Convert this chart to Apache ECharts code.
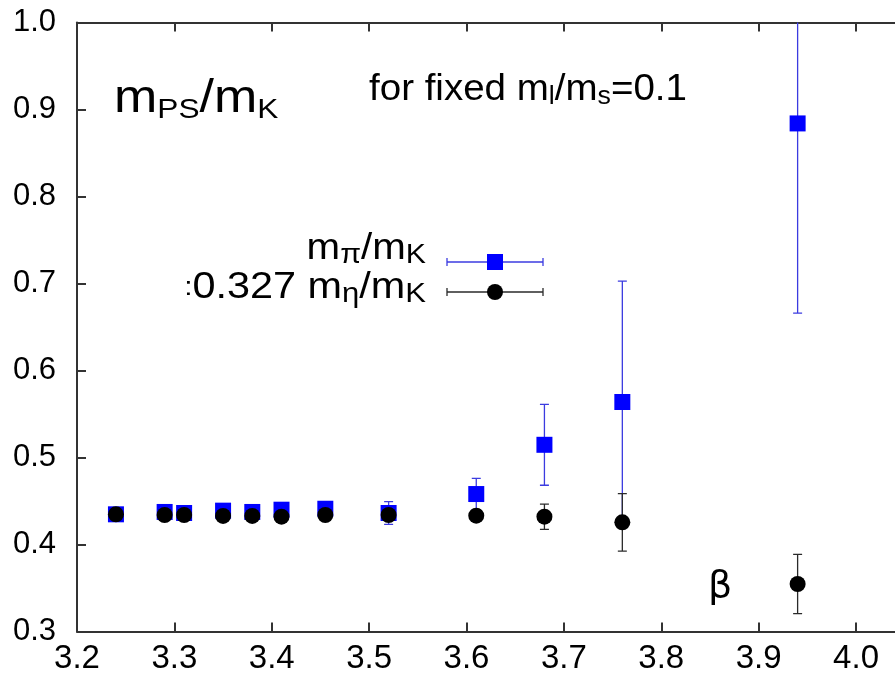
<!DOCTYPE html>
<html>
<head>
<meta charset="utf-8">
<script src="https://cdn.jsdelivr.net/npm/echarts@6/dist/echarts.min.js"></script>
<style>
  html, body { margin: 0; padding: 0; background: #fff; }
  #chart { width: 895px; height: 679px; }
</style>
</head>
<body>
<div id="chart"></div>
<script>
// Lattice couplings (beta) at fixed m_l/m_s = 0.1
const betaValues = [3.24, 3.29, 3.31, 3.35, 3.38, 3.41, 3.455, 3.52, 3.61, 3.68, 3.76, 3.94];

// m_pi / m_K with errors
const piOverK    = [0.4347, 0.4374, 0.4362, 0.4389, 0.4374, 0.4400, 0.4411, 0.4362, 0.4580, 0.5146, 0.5638, 0.8840];
const piOverKErr = [0.0040, 0.0030, 0.0030, 0.0030, 0.0030, 0.0030, 0.0040, 0.0130, 0.0180, 0.0465, 0.1390, 0.2180];

// 0.327 m_eta / m_K with errors
const etaOverK    = [0.4347, 0.4339, 0.4339, 0.4328, 0.4328, 0.4320, 0.4339, 0.4339, 0.4331, 0.4320, 0.4255, 0.3546];
const etaOverKErr = [0.0030, 0.0030, 0.0030, 0.0030, 0.0030, 0.0030, 0.0030, 0.0040, 0.0060, 0.0145, 0.0330, 0.0340];

// Axis ticks
const xTickValues = [3.2, 3.3, 3.4, 3.5, 3.6, 3.7, 3.8, 3.9, 4.0];
const yTickValues = [0.3, 0.4, 0.5, 0.6, 0.7, 0.8, 0.9, 1.0];

const FONT = '"Liberation Sans", Arial, Helvetica, sans-serif';
const BLUE = '#0000ff';
const BLUE_BAR = '#3b3be0';
const BLACK = '#000000';
const BLACK_BAR = '#2a2a2a';

const chart = echarts.init(document.getElementById('chart'), null, { renderer: 'canvas' });

function errorBarSeries(name, values, errors, color) {
  return {
    name: name,
    type: 'custom',
    clip: true,
    silent: true,
    data: betaValues.map((b, i) => [b, values[i], errors[i]]),
    encode: { x: 0, y: 1 },
    renderItem: function (params, api) {
      const x = api.value(0), y = api.value(1), e = api.value(2);
      const top = api.coord([x, y + e]);
      const bot = api.coord([x, y - e]);
      const cap = 4.5;
      const st = { stroke: color, lineWidth: 1.3 };
      return {
        type: 'group',
        children: [
          { type: 'line', shape: { x1: top[0], y1: top[1], x2: bot[0], y2: bot[1] }, style: st },
          { type: 'line', shape: { x1: top[0] - cap, y1: top[1], x2: top[0] + cap, y2: top[1] }, style: st },
          { type: 'line', shape: { x1: bot[0] - cap, y1: bot[1], x2: bot[0] + cap, y2: bot[1] }, style: st }
        ]
      };
    }
  };
}

function pointSeries(name, values, symbol, color) {
  return {
    name: name,
    type: 'scatter',
    symbol: symbol,
    symbolSize: 16,
    silent: true,
    itemStyle: { color: color, opacity: 1 },
    data: betaValues.map((b, i) => [b, values[i]])
  };
}

const axisLineStyle = { color: '#333', width: 2 };
const tickStyle = { color: '#333', width: 2 };

// Legend sample: horizontal error bar with marker
function legendSample(y, color, barColor, marker) {
  const x1 = 447, x2 = 543, xc = 495, cap = 4;
  const st = { stroke: barColor, lineWidth: 1.3 };
  const items = [
    { type: 'line', shape: { x1: x1, y1: y, x2: x2, y2: y }, style: st },
    { type: 'line', shape: { x1: x1, y1: y - cap, x2: x1, y2: y + cap }, style: st },
    { type: 'line', shape: { x1: x2, y1: y - cap, x2: x2, y2: y + cap }, style: st }
  ];
  if (marker === 'rect') {
    items.push({ type: 'rect', shape: { x: xc - 8, y: y - 8, width: 16, height: 16 }, style: { fill: color } });
  } else {
    items.push({ type: 'circle', shape: { cx: xc, cy: y, r: 8 }, style: { fill: color } });
  }
  return items;
}

function mainRich(size, lh) {
  return { fontSize: size, fontFamily: FONT, color: '#000', lineHeight: lh };
}
function subRich(size, lh) {
  return { fontSize: size, fontFamily: FONT, color: '#000', lineHeight: lh, verticalAlign: 'bottom' };
}

const option = {
  animation: false,
  backgroundColor: '#fff',
  grid: { left: 77, top: 22.5, right: 0, bottom: 47.5 },
  xAxis: [
    {
      type: 'value',
      position: 'bottom',
      min: 3.2,
      max: 4.04,
      interval: 0.1,
      splitLine: { show: false },
      axisLine: { lineStyle: axisLineStyle },
      axisTick: { inside: true, length: 9, lineStyle: tickStyle, customValues: xTickValues },
      axisLabel: {
        customValues: xTickValues,
        formatter: v => v.toFixed(1),
        fontSize: 33, fontFamily: FONT, color: '#000', margin: 11
      }
    },
    {
      type: 'value',
      position: 'top',
      min: 3.2,
      max: 4.04,
      interval: 0.1,
      splitLine: { show: false },
      axisLine: { lineStyle: axisLineStyle },
      axisTick: { inside: true, length: 9, lineStyle: tickStyle, customValues: xTickValues },
      axisLabel: { show: false }
    }
  ],
  yAxis: {
    type: 'value',
    min: 0.3,
    max: 1.0,
    interval: 0.1,
    splitLine: { show: false },
    axisLine: { lineStyle: axisLineStyle },
    axisTick: { inside: true, length: 9, lineStyle: tickStyle, customValues: yTickValues },
    axisLabel: {
      customValues: yTickValues,
      formatter: v => v.toFixed(1),
      fontSize: 31, fontFamily: FONT, color: '#000', margin: 21
    }
  },
  series: [
    errorBarSeries('piErr', piOverK, piOverKErr, BLUE_BAR),
    pointSeries('m_pi/m_K', piOverK, 'rect', BLUE),
    errorBarSeries('etaErr', etaOverK, etaOverKErr, BLACK_BAR),
    pointSeries('0.327 m_eta/m_K', etaOverK, 'circle', BLACK)
  ],
  graphic: [
    // Panel title
    {
      type: 'text', x: 114, y: 74, scaleX: 1.13,
      style: {
        text: '{m|m}{s|PS}{m|/m}{s|K}',
        rich: { m: mainRich(46, 50), s: subRich(28, 30) }
      }
    },
    // Condition label
    {
      type: 'text', x: 369, y: 70, scaleX: 1.07,
      style: {
        text: '{m|for fixed m}{s|l}{m|/m}{s|s}{m|=0.1}',
        rich: { m: mainRich(36, 40), s: subRich(25, 22) }
      }
    },
    // Legend labels
    {
      type: 'text', x: 426, y: 229, scaleX: 1.12,
      style: {
        text: '{m|m}{s|π}{m|/m}{s|K}',
        align: 'right',
        rich: { m: mainRich(36, 40), s: subRich(27, 22) }
      }
    },
    {
      type: 'text', x: 426, y: 268, scaleX: 1.15,
      style: {
        text: '{c|:}{m|0.327 m}{s|η}{m|/m}{s|K}',
        align: 'right',
        rich: {
          c: { fontSize: 26, fontFamily: FONT, color: '#777', lineHeight: 40 },
          m: mainRich(36, 40),
          s: subRich(27, 22)
        }
      }
    },
    // Axis variable
    {
      type: 'text', x: 708, y: 568,
      style: { text: 'β', fontSize: 38, fontFamily: '"DejaVu Sans", ' + FONT, fill: '#000' }
    },
    {
      type: 'group',
      children: legendSample(262, BLUE, BLUE_BAR, 'rect').concat(legendSample(292, BLACK, BLACK_BAR, 'circle'))
    }
  ]
};

chart.setOption(option);
</script>
</body>
</html>
